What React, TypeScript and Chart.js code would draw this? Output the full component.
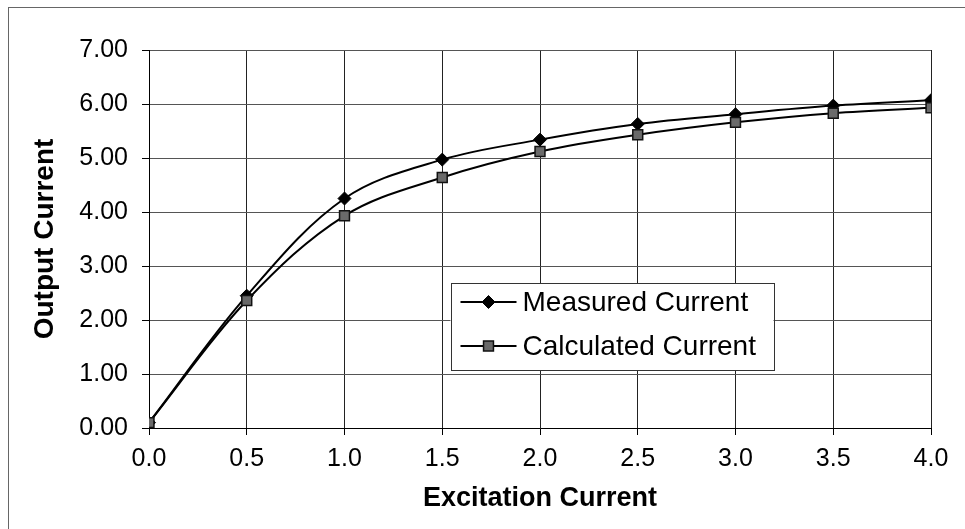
import React, { useEffect, useRef } from "react";
import { Chart, registerables } from "chart.js";

Chart.register(...registerables);

const excitation = [0, 0.5, 1.0, 1.5, 2.0, 2.5, 3.0, 3.5, 4.0];
const measured = [0.1, 2.45, 4.25, 4.97, 5.34, 5.63, 5.81, 5.97, 6.07];
const calculated = [0.1, 2.36, 3.93, 4.64, 5.12, 5.43, 5.66, 5.83, 5.93];
const seriesNames = ["Measured Current", "Calculated Current"];
const xTitle = "Excitation Current";
const yTitle = "Output Current";

const FONT = "'Liberation Sans', Arial, Helvetica, sans-serif";

const legendPlugin = {
  id: "insideLegend",
  afterDraw(chart: any) {
    const { ctx, chartArea } = chart;
    const x0 = chartArea.left + 301.5;
    const y0 = chartArea.top + 233;
    const w = 323;
    const h = 87;
    ctx.save();
    ctx.fillStyle = "#fff";
    ctx.fillRect(x0, y0, w, h);
    ctx.strokeStyle = "#333";
    ctx.lineWidth = 1;
    ctx.strokeRect(Math.round(x0) + 0.5, Math.round(y0) + 0.5, w, h);
    const rows = [19, 63];
    ctx.font = "28px " + FONT;
    ctx.textBaseline = "middle";
    ctx.textAlign = "left";
    rows.forEach((dy, i) => {
      const y = y0 + dy;
      ctx.strokeStyle = "#000";
      ctx.lineWidth = 2;
      ctx.beginPath();
      ctx.moveTo(x0 + 10, y);
      ctx.lineTo(x0 + 66, y);
      ctx.stroke();
      const ds = chart.data.datasets[i];
      const meta = chart.getDatasetMeta(i);
      const opts = meta.data[0].options;
      ctx.fillStyle = opts.backgroundColor;
      ctx.strokeStyle = opts.borderColor;
      ctx.lineWidth = opts.borderWidth;
      ctx.beginPath();
      const cx = x0 + 38;
      if (opts.pointStyle === "rectRot") {
        const r = opts.radius;
        ctx.moveTo(cx, y - r);
        ctx.lineTo(cx + r, y);
        ctx.lineTo(cx, y + r);
        ctx.lineTo(cx - r, y);
        ctx.closePath();
      } else {
        const s = opts.radius * Math.SQRT1_2;
        ctx.rect(cx - s, y - s, 2 * s, 2 * s);
      }
      ctx.fill();
      ctx.stroke();
      ctx.fillStyle = "#000";
      ctx.fillText(ds.label, x0 + 72, y + 1);
    });
    ctx.restore();
  },
};

export default function App() {
  const ref = useRef<HTMLCanvasElement>(null);
  useEffect(() => {
    if (!ref.current) return;
    const chart = new Chart(ref.current, {
      type: "line",
      data: {
        datasets: [
          {
            label: seriesNames[0],
            data: excitation.map((x, i) => ({ x, y: measured[i] })),
            borderColor: "#000",
            backgroundColor: "#000",
            borderWidth: 2,
            pointStyle: "rectRot",
            pointRadius: 6.5,
            pointBorderWidth: 1,
            pointBorderColor: "#000",
            pointBackgroundColor: "#000",
            tension: 0.35,
            order: 1,
          },
          {
            label: seriesNames[1],
            data: excitation.map((x, i) => ({ x, y: calculated[i] })),
            borderColor: "#000",
            backgroundColor: "#6a6a6a",
            borderWidth: 2,
            pointStyle: "rect",
            pointRadius: 7,
            pointBorderWidth: 1.5,
            pointBorderColor: "#111",
            pointBackgroundColor: "#6a6a6a",
            tension: 0.35,
            order: 0,
          },
        ],
      },
      options: {
        animation: false,
        responsive: false,
        maintainAspectRatio: false,
        layout: { padding: { top: 42, right: 34, left: 0, bottom: 0 } },
        plugins: { legend: { display: false }, tooltip: { enabled: false } },
        scales: {
          x: {
            type: "linear",
            min: 0,
            max: 4,
            afterFit: (s: any) => {
              s.height = 101;
            },
            ticks: {
              stepSize: 0.5,
              color: "#000",
              padding: 9,
              font: { family: FONT, size: 25 },
              callback: (v: any) => Number(v).toFixed(1),
              maxRotation: 0,
              autoSkip: false,
            },
            grid: { color: "#222", lineWidth: 1, tickLength: 7, tickColor: "#000" },
            border: { color: "#000", width: 1 },
            title: {
              display: true,
              text: xTitle,
              color: "#000",
              font: { family: FONT, size: 27, weight: "bold" },
              padding: { top: 0, bottom: 14 },
            },
          },
          y: {
            min: 0,
            max: 7,
            afterFit: (s: any) => {
              s.width = 140;
            },
            ticks: {
              stepSize: 1,
              color: "#000",
              padding: 14,
              font: { family: FONT, size: 25 },
              callback: (v: any) => Number(v).toFixed(2),
            },
            grid: { color: "#555", lineWidth: 1, tickLength: 7, tickColor: "#000" },
            border: { color: "#000", width: 1 },
            title: {
              display: true,
              text: yTitle,
              color: "#000",
              font: { family: FONT, size: 28, weight: "bold" },
              padding: { top: 19, bottom: 0 },
            },
          },
        },
      },
      plugins: [legendPlugin],
    });
    return () => chart.destroy();
  }, []);
  return (
    <div
      style={{
        position: "absolute",
        left: 8,
        top: 7,
        width: 957,
        height: 522,
        boxSizing: "border-box",
        borderLeft: "1px solid #666",
        borderTop: "1px solid #666",
        background: "#fff",
      }}
    >
      <canvas ref={ref} width={956} height={521} style={{ display: "block" }} />
    </div>
  );
}
